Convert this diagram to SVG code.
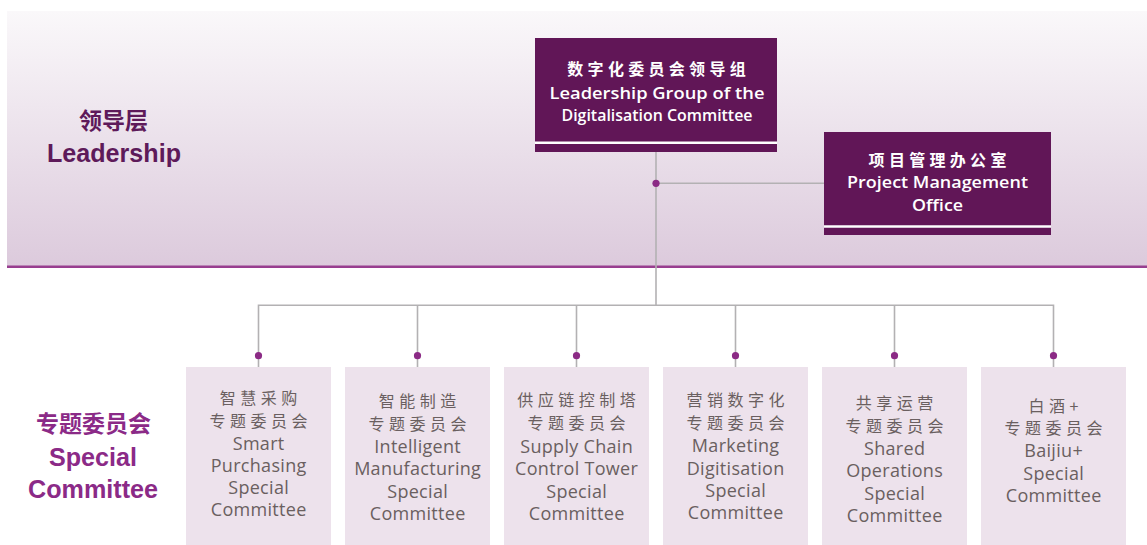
<svg xmlns="http://www.w3.org/2000/svg" width="1147" height="545" viewBox="0 0 1147 545">
<defs>
<linearGradient id="band" x1="0" y1="0" x2="0" y2="1">
<stop offset="0" stop-color="#faf8fa"/>
<stop offset="1" stop-color="#dccadc"/>
</linearGradient>
<style>
.dark{fill:#611657}
.wline{stroke:#ffffff;stroke-width:2.5}
.cnh{font-family:"Noto Sans CJK SC","Noto Sans",sans-serif;font-weight:700;font-size:16px;letter-spacing:4.3px;fill:#ffffff;text-anchor:middle}
.enh{font-family:"Open Sans","Noto Sans",sans-serif;font-weight:600;font-size:17px;fill:#ffffff;text-anchor:middle}
.sbox{fill:#ede2ec}
.cns{font-family:"Noto Sans CJK SC","Noto Sans",sans-serif;font-weight:400;font-size:16px;letter-spacing:4.5px;fill:#6a5f60;text-anchor:middle}
.ens{font-family:"Open Sans","Noto Sans",sans-serif;font-weight:400;font-size:18px;letter-spacing:0.3px;fill:#6a5f60;text-anchor:middle}
.conn{stroke:#b3b1b3;stroke-width:1.6;fill:none}
.dot{fill:#8b2a85}
.lab1{font-family:"Liberation Sans",Arial,"Noto Sans CJK SC",sans-serif;font-weight:700;fill:#5e1a5a;text-anchor:middle}
.lab2{font-family:"Liberation Sans",Arial,"Noto Sans CJK SC",sans-serif;font-weight:700;fill:#8b2a87;text-anchor:middle}
.cjkl{font-family:"Noto Sans CJK SC",sans-serif;font-weight:700;font-size:23px}
</style>
</defs>
<rect x="0" y="0" width="1147" height="545" fill="#ffffff"/>
<rect x="7" y="11" width="1140" height="255.5" fill="url(#band)"/>
<line x1="7" y1="266.8" x2="1147" y2="266.8" stroke="#983e8f" stroke-width="2.6"/>

<g id="label-leadership">
<text class="lab1 cjkl" x="113.5" y="128.5">领导层</text>
<text class="lab1" x="114" y="162" font-size="25.5" textLength="134" lengthAdjust="spacingAndGlyphs">Leadership</text>
</g>
<g id="label-special">
<text class="lab2 cjkl" x="93.5" y="431.5">专题委员会</text>
<text class="lab2" x="93" y="466" font-size="25" textLength="88" lengthAdjust="spacingAndGlyphs">Special</text>
<text class="lab2" x="93" y="498" font-size="25" textLength="130" lengthAdjust="spacingAndGlyphs">Committee</text>
</g>

<g id="connectors">
<line class="conn" x1="656" y1="152" x2="656" y2="305.3"/>
<line class="conn" x1="656" y1="183.3" x2="824" y2="183.3"/>
<polyline class="conn" points="258.5,367 258.5,305.3 1053.5,305.3 1053.5,367"/>
<line class="conn" x1="417.5" y1="305.3" x2="417.5" y2="367"/>
<line class="conn" x1="576.5" y1="305.3" x2="576.5" y2="367"/>
<line class="conn" x1="735.5" y1="305.3" x2="735.5" y2="367"/>
<line class="conn" x1="894.5" y1="305.3" x2="894.5" y2="367"/>
<circle class="dot" cx="656" cy="183.3" r="3.6"/>
<circle class="dot" cx="258.5" cy="355.7" r="3.6"/>
<circle class="dot" cx="417.5" cy="355.7" r="3.6"/>
<circle class="dot" cx="576.5" cy="355.7" r="3.6"/>
<circle class="dot" cx="735.5" cy="355.7" r="3.6"/>
<circle class="dot" cx="894.5" cy="355.7" r="3.6"/>
<circle class="dot" cx="1053.5" cy="355.7" r="3.6"/>
</g>

<g id="node-leadership-group">
<rect class="dark" x="535" y="38" width="242" height="114"/>
<line class="wline" x1="535" y1="142.7" x2="777" y2="142.7"/>
<text class="cnh" x="658.65" y="75">数字化委员会领导组</text>
<text class="enh" x="657" y="98.5" textLength="215" lengthAdjust="spacingAndGlyphs">Leadership Group of the</text>
<text class="enh" x="657" y="121" textLength="191" lengthAdjust="spacingAndGlyphs">Digitalisation Committee</text>
</g>

<g id="node-pmo">
<rect class="dark" x="824" y="132" width="227" height="103"/>
<line class="wline" x1="824" y1="226.5" x2="1051" y2="226.5"/>
<text class="cnh" x="939.65" y="166">项目管理办公室</text>
<text class="enh" x="937.5" y="188" textLength="181" lengthAdjust="spacingAndGlyphs">Project Management</text>
<text class="enh" x="937.5" y="211" textLength="51" lengthAdjust="spacingAndGlyphs">Office</text>
</g>

<g id="node-smart-purchasing">
<rect class="sbox" x="186" y="367" width="145" height="178"/>
<text class="cns" x="260.75" y="403.5">智慧采购</text>
<text class="cns" x="260.75" y="426.5">专题委员会</text>
<text class="ens" x="258.65" y="449.5">Smart</text>
<text class="ens" x="258.65" y="471.5">Purchasing</text>
<text class="ens" x="258.65" y="493.5">Special</text>
<text class="ens" x="258.65" y="515.5">Committee</text>
</g>

<g id="node-intelligent-manufacturing">
<rect class="sbox" x="345" y="367" width="145" height="178"/>
<text class="cns" x="419.75" y="406.5">智能制造</text>
<text class="cns" x="419.75" y="429.5">专题委员会</text>
<text class="ens" x="417.65" y="452.5">Intelligent</text>
<text class="ens" x="417.65" y="475">Manufacturing</text>
<text class="ens" x="417.65" y="497.5">Special</text>
<text class="ens" x="417.65" y="519.5">Committee</text>
</g>

<g id="node-supply-chain">
<rect class="sbox" x="504" y="367" width="145" height="178"/>
<text class="cns" x="578.75" y="406">供应链控制塔</text>
<text class="cns" x="578.75" y="429">专题委员会</text>
<text class="ens" x="576.65" y="452.5">Supply Chain</text>
<text class="ens" x="576.65" y="475">Control Tower</text>
<text class="ens" x="576.65" y="497.5">Special</text>
<text class="ens" x="576.65" y="519.5">Committee</text>
</g>

<g id="node-marketing">
<rect class="sbox" x="663" y="367" width="145" height="178"/>
<text class="cns" x="737.75" y="406">营销数字化</text>
<text class="cns" x="737.75" y="429">专题委员会</text>
<text class="ens" x="735.65" y="452">Marketing</text>
<text class="ens" x="735.65" y="474.5">Digitisation</text>
<text class="ens" x="735.65" y="496.5">Special</text>
<text class="ens" x="735.65" y="519">Committee</text>
</g>

<g id="node-shared-operations">
<rect class="sbox" x="822" y="367" width="145" height="178"/>
<text class="cns" x="896.75" y="409">共享运营</text>
<text class="cns" x="896.75" y="432">专题委员会</text>
<text class="ens" x="894.65" y="455">Shared</text>
<text class="ens" x="894.65" y="477">Operations</text>
<text class="ens" x="894.65" y="499.5">Special</text>
<text class="ens" x="894.65" y="522">Committee</text>
</g>

<g id="node-baijiu">
<rect class="sbox" x="981" y="367" width="145" height="178"/>
<text class="cns" x="1055.75" y="412">白酒+</text>
<text class="cns" x="1055.75" y="434">专题委员会</text>
<text class="ens" x="1053.65" y="457">Baijiu+</text>
<text class="ens" x="1053.65" y="479.5">Special</text>
<text class="ens" x="1053.65" y="502">Committee</text>
</g>
</svg>
